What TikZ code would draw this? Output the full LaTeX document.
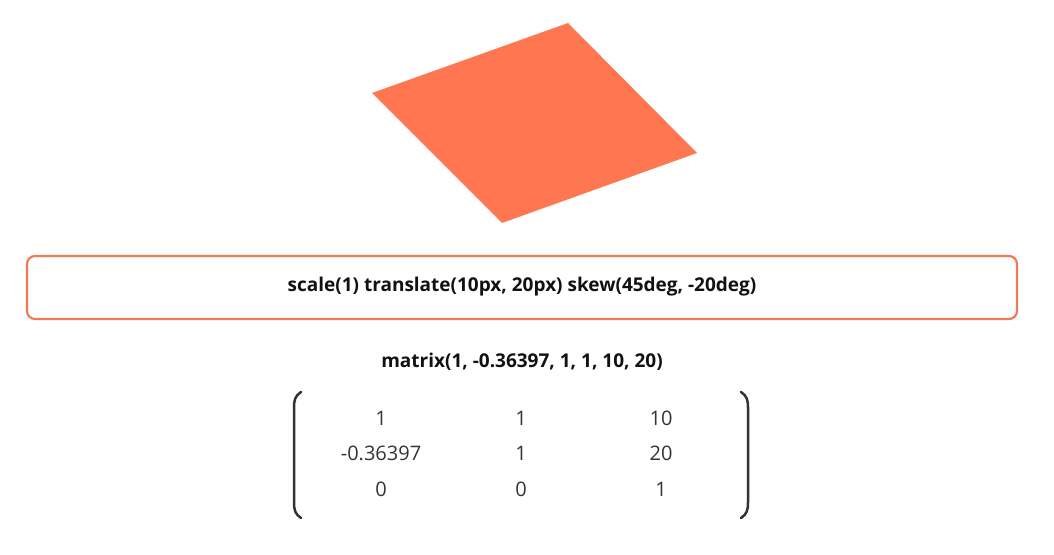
\documentclass[tikz,border=0pt]{standalone}
\usepackage{fontspec}
\setmainfont{Open Sans}
\definecolor{skewfill}{HTML}{FF7750}
\definecolor{frame}{HTML}{F07A58}
\definecolor{ink}{HTML}{111111}
\definecolor{num}{HTML}{333333}
\begin{document}
\begin{tikzpicture}[x=1pt,y=-1pt,
  title/.style={font=\fontsize{19}{22}\selectfont\bfseries, text=ink, inner sep=0},
  entry/.style={font=\fontsize{20}{23}\selectfont, text=num, inner sep=0},
  paren/.style={draw=num, line width=2.5pt, line cap=round}]
\useasboundingbox (0,0) rectangle (1054,554);
\fill[skewfill] (568,23) -- (697,153) -- (502,223) -- (372,93) -- cycle;
\draw[frame, line width=2.2pt, rounded corners=8pt] (27,256) rectangle (1017,319);
\node[title] (css) at (522,287) {scale(1) translate(10px, 20px) skew(45deg, -20deg)};
\node[title] (mat) at (522,362) {matrix(1, -0.36397, 1, 1, 10, 20)};
\node[entry] (a11) at (381,418) {1};
\node[entry] (a12) at (521,418) {1};
\node[entry] (a13) at (661,418) {10};
\node[entry] (a21) at (381,453) {-0.36397};
\node[entry] (a22) at (521,453) {1};
\node[entry] (a23) at (661,453) {20};
\node[entry] (a31) at (381,489) {0};
\node[entry] (a32) at (521,489) {0};
\node[entry] (a33) at (661,489) {1};
\draw[paren] (301,392) .. controls (295,396) and (294,400) .. (294,408) -- (294,502) .. controls (294,510) and (295,514) .. (301,518);
\draw[paren] (741,392) .. controls (747,396) and (748,400) .. (748,408) -- (748,502) .. controls (748,510) and (747,514) .. (741,518);
\end{tikzpicture}
\end{document}
